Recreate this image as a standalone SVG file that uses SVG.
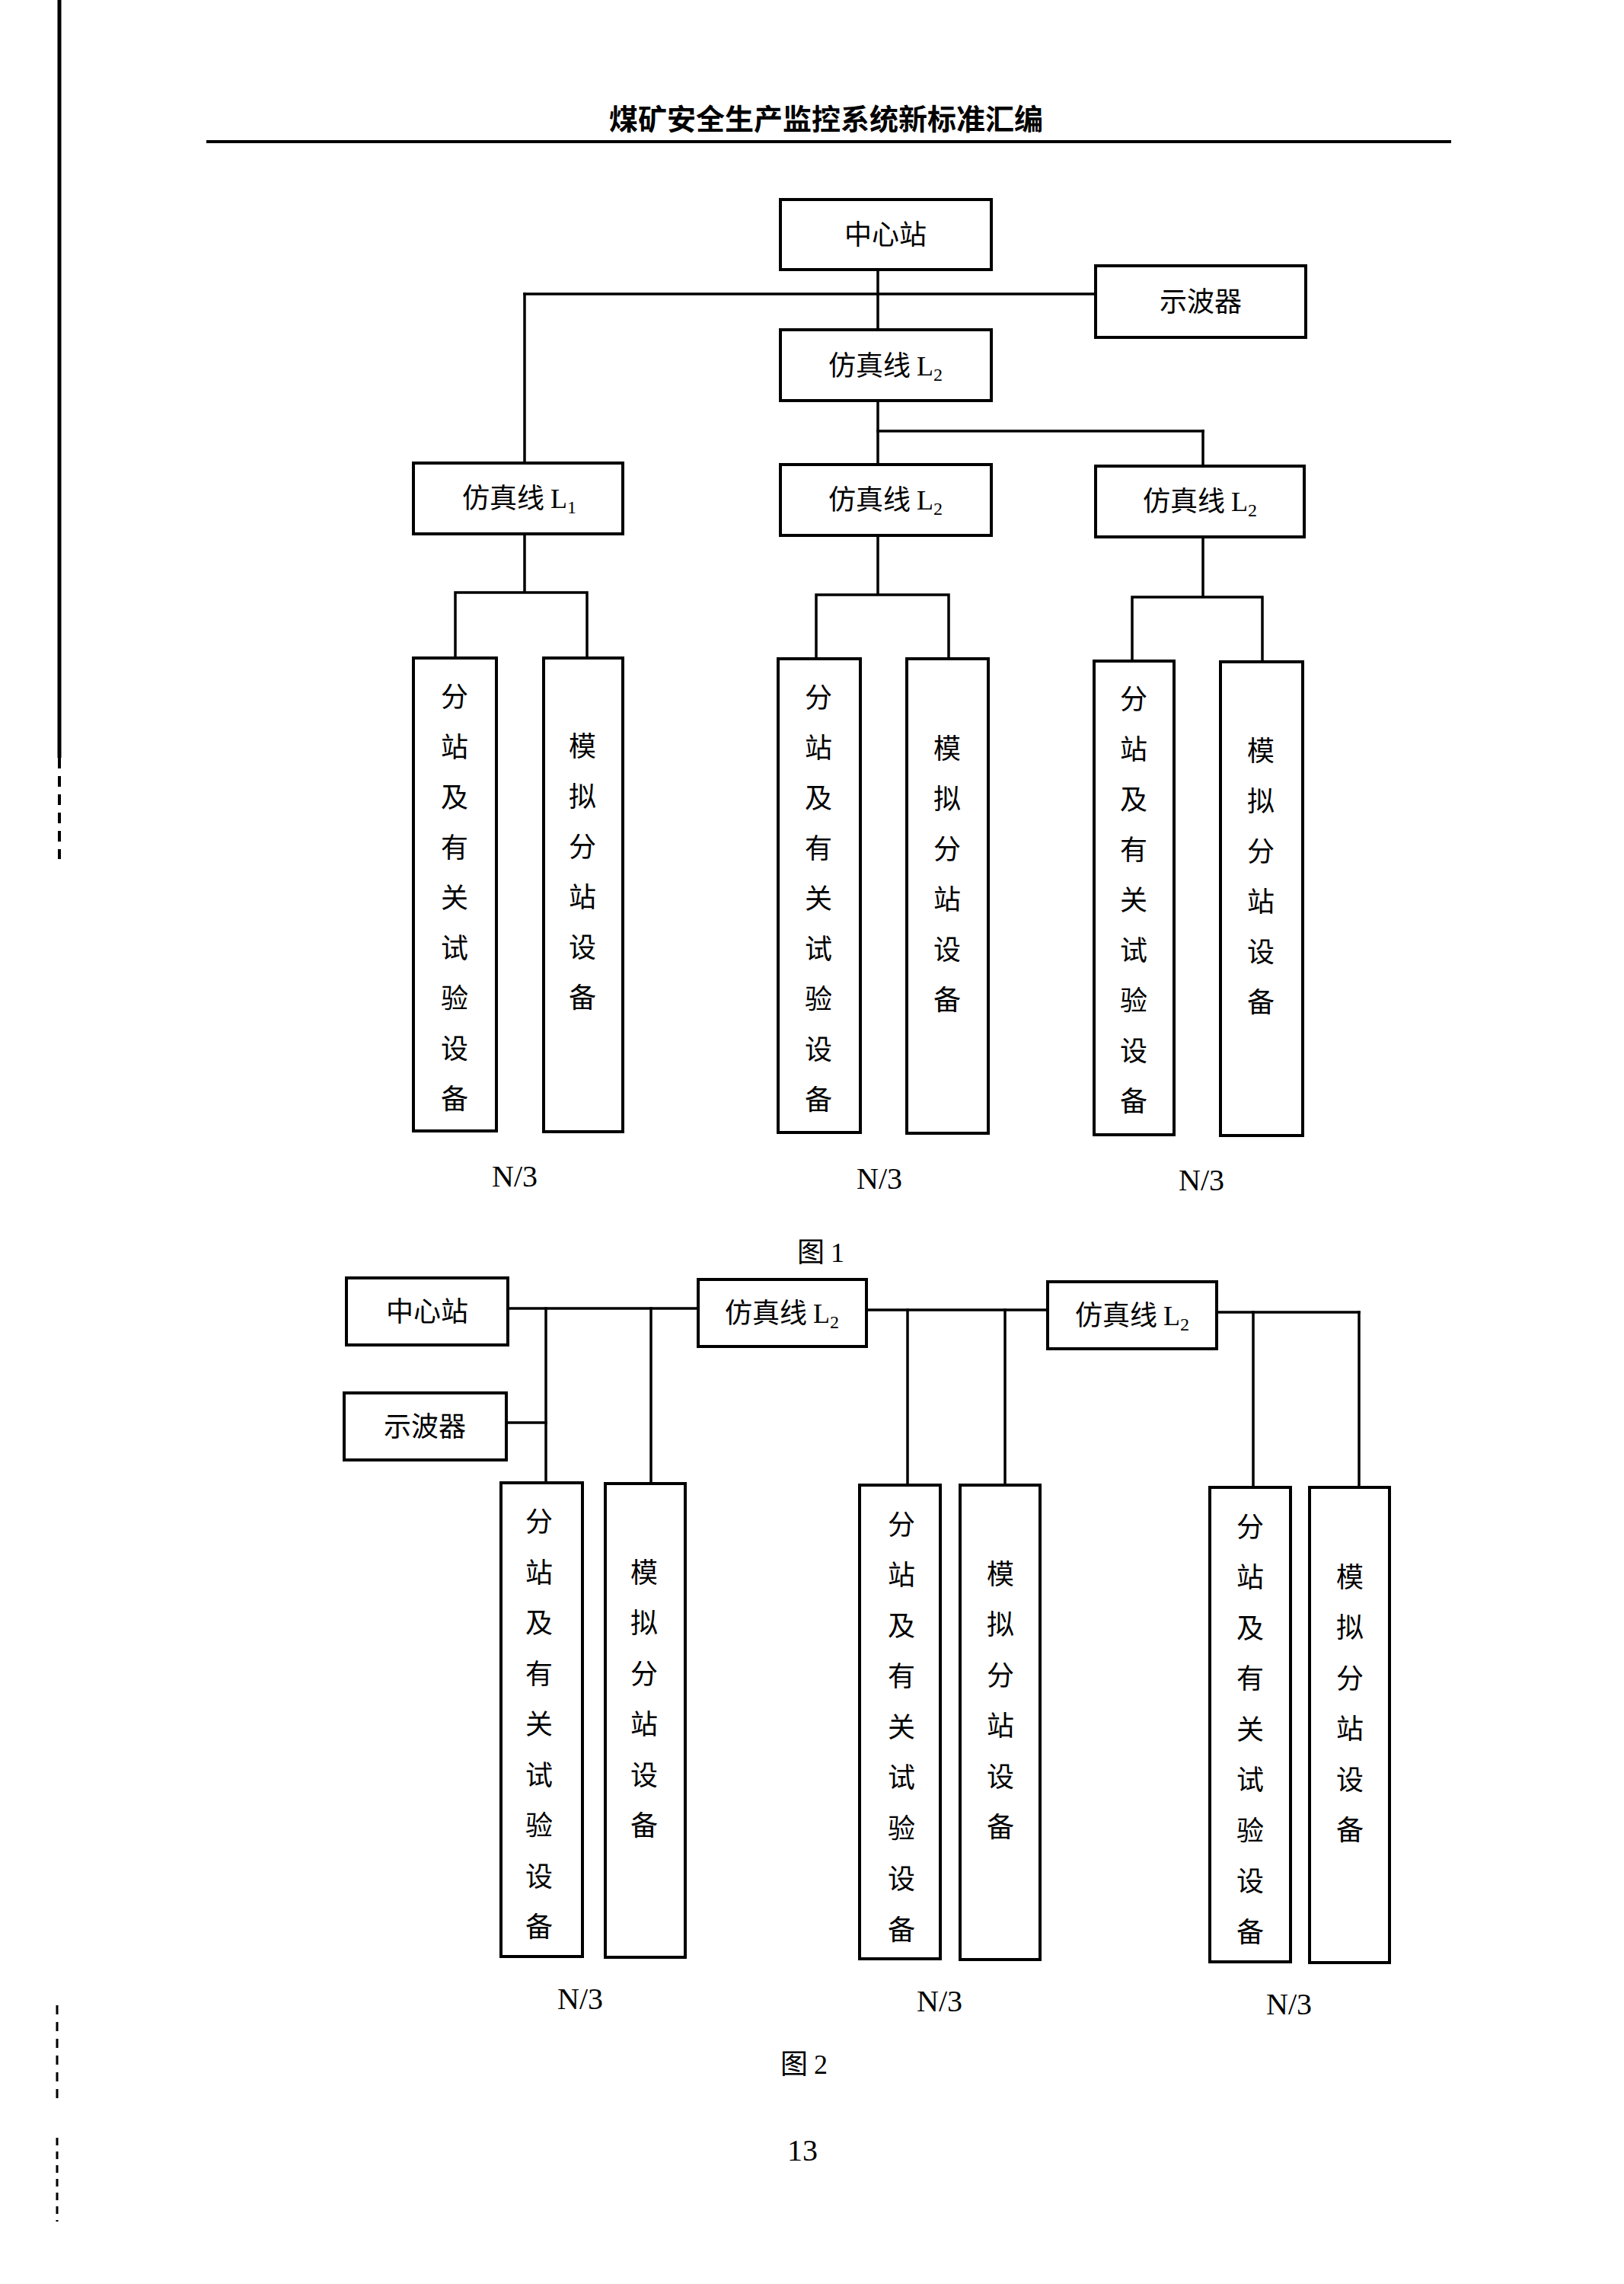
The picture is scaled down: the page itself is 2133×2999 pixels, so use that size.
<svg xmlns="http://www.w3.org/2000/svg" width="2133" height="2999" viewBox="0 0 2133 2999">
<style>
.bg{fill:#fff}
.box{fill:#fff;stroke:#000;stroke-width:4}
.ln{fill:none;stroke:#000;stroke-width:3.5;stroke-linecap:square}
.cjk{font-family:"Noto Sans CJK SC","Noto Sans",sans-serif;font-size:36px;fill:#000;text-anchor:middle}
.lat{font-family:"Liberation Serif",serif}
.sub{font-family:"Liberation Serif",serif;font-size:24px}
.num{font-family:"Liberation Serif",serif;font-size:40px;fill:#000;text-anchor:middle}
.hdr{font-family:"Noto Sans CJK SC",sans-serif;font-size:38px;font-weight:bold;fill:#000;text-anchor:middle}
</style>
<rect class="bg" x="0" y="0" width="2133" height="2999"/>

<g id="page">
<line x1="78" y1="0" x2="78" y2="995" stroke="#000" stroke-width="5"/>
<line x1="78" y1="995" x2="78" y2="1128" stroke="#000" stroke-width="4" stroke-dasharray="14 10"/>
<line x1="75" y1="2633" x2="75" y2="2763" stroke="#000" stroke-width="3" stroke-dasharray="12 10"/>
<line x1="75" y1="2807" x2="75" y2="2917" stroke="#000" stroke-width="3" stroke-dasharray="10 8"/>
<text class="hdr" x="1085" y="170">煤矿安全生产监控系统新标准汇编</text>
<line x1="271" y1="186" x2="1906" y2="186" stroke="#000" stroke-width="4"/>
<text class="cjk" x="1078" y="1657">图 <tspan class="lat">1</tspan></text>
<text class="cjk" x="1056" y="2723">图 <tspan class="lat">2</tspan></text>
<text class="num" x="1054" y="2837">13</text>
</g>

<!-- Figure 1 connectors -->
<g id="connectors-fig1">
<line class="ln" x1="1153" y1="354" x2="1153" y2="433"/>
<line class="ln" x1="689" y1="386" x2="1439" y2="386"/>
<line class="ln" x1="689" y1="386" x2="689" y2="608"/>
<line class="ln" x1="1153" y1="526" x2="1153" y2="610"/>
<line class="ln" x1="1153" y1="566" x2="1580" y2="566"/>
<line class="ln" x1="1580" y1="566" x2="1580" y2="612"/>
<path class="ln" d="M689 701 V778 M598 864 V778 H771 V864"/>
<path class="ln" d="M1153 703 V781 M1072 865 V781 H1246 V865"/>
<path class="ln" d="M1580 705 V784 M1487 868 V784 H1658 V869"/>
</g>

<!-- Figure 1 nodes -->
<g id="f1-center"><rect class="box" x="1025" y="262" width="277" height="92"/><text class="cjk" x="1163" y="321">中心站</text></g>
<g id="f1-scope"><rect class="box" x="1439" y="349" width="276" height="94"/><text class="cjk" x="1577" y="409">示波器</text></g>
<g id="f1-l2-top"><rect class="box" x="1025" y="433" width="277" height="93"/><text class="cjk" x="1163" y="493">仿真线 <tspan class="lat">L</tspan><tspan class="sub" dy="7">2</tspan></text></g>
<g id="f1-l1"><rect class="box" x="543" y="608" width="275" height="93"/><text class="cjk" x="682" y="667">仿真线 <tspan class="lat">L</tspan><tspan class="sub" dy="7">1</tspan></text></g>
<g id="f1-l2-mid"><rect class="box" x="1025" y="610" width="277" height="93"/><text class="cjk" x="1163" y="669">仿真线 <tspan class="lat">L</tspan><tspan class="sub" dy="7">2</tspan></text></g>
<g id="f1-l2-right"><rect class="box" x="1439" y="612" width="274" height="93"/><text class="cjk" x="1576" y="671">仿真线 <tspan class="lat">L</tspan><tspan class="sub" dy="7">2</tspan></text></g>

<g id="f1-sub-a"><rect class="box" x="543" y="864" width="109" height="621"/>
<text class="cjk"><tspan x="597" y="928">分</tspan><tspan x="597" y="994">站</tspan><tspan x="597" y="1060">及</tspan><tspan x="597" y="1126">有</tspan><tspan x="597" y="1192">关</tspan><tspan x="597" y="1258">试</tspan><tspan x="597" y="1324">验</tspan><tspan x="597" y="1390">设</tspan><tspan x="597" y="1456">备</tspan></text></g>
<g id="f1-sim-a"><rect class="box" x="714" y="864" width="104" height="622"/>
<text class="cjk"><tspan x="765" y="993">模</tspan><tspan x="765" y="1059">拟</tspan><tspan x="765" y="1125">分</tspan><tspan x="765" y="1191">站</tspan><tspan x="765" y="1257">设</tspan><tspan x="765" y="1323">备</tspan></text></g>
<g id="f1-sub-b"><rect class="box" x="1022" y="865" width="108" height="622"/>
<text class="cjk"><tspan x="1075" y="929">分</tspan><tspan x="1075" y="995">站</tspan><tspan x="1075" y="1061">及</tspan><tspan x="1075" y="1127">有</tspan><tspan x="1075" y="1193">关</tspan><tspan x="1075" y="1259">试</tspan><tspan x="1075" y="1325">验</tspan><tspan x="1075" y="1391">设</tspan><tspan x="1075" y="1457">备</tspan></text></g>
<g id="f1-sim-b"><rect class="box" x="1191" y="865" width="107" height="623"/>
<text class="cjk"><tspan x="1244" y="996">模</tspan><tspan x="1244" y="1062">拟</tspan><tspan x="1244" y="1128">分</tspan><tspan x="1244" y="1194">站</tspan><tspan x="1244" y="1260">设</tspan><tspan x="1244" y="1326">备</tspan></text></g>
<g id="f1-sub-c"><rect class="box" x="1437" y="868" width="105" height="622"/>
<text class="cjk"><tspan x="1489" y="931">分</tspan><tspan x="1489" y="997">站</tspan><tspan x="1489" y="1063">及</tspan><tspan x="1489" y="1129">有</tspan><tspan x="1489" y="1195">关</tspan><tspan x="1489" y="1261">试</tspan><tspan x="1489" y="1327">验</tspan><tspan x="1489" y="1393">设</tspan><tspan x="1489" y="1459">备</tspan></text></g>
<g id="f1-sim-c"><rect class="box" x="1603" y="869" width="108" height="622"/>
<text class="cjk"><tspan x="1656" y="999">模</tspan><tspan x="1656" y="1065">拟</tspan><tspan x="1656" y="1131">分</tspan><tspan x="1656" y="1197">站</tspan><tspan x="1656" y="1263">设</tspan><tspan x="1656" y="1329">备</tspan></text></g>

<g id="f1-labels">
<text class="num" x="676" y="1558">N/3</text>
<text class="num" x="1155" y="1561">N/3</text>
<text class="num" x="1578" y="1563">N/3</text>
</g>

<!-- Figure 2 connectors -->
<g id="connectors-fig2">
<line class="ln" x1="667" y1="1718" x2="917" y2="1718"/>
<line class="ln" x1="717" y1="1718" x2="717" y2="1947"/>
<line class="ln" x1="665" y1="1868" x2="717" y2="1868"/>
<line class="ln" x1="855" y1="1718" x2="855" y2="1948"/>
<line class="ln" x1="1138" y1="1720" x2="1376" y2="1720"/>
<line class="ln" x1="1192" y1="1720" x2="1192" y2="1950"/>
<line class="ln" x1="1320" y1="1720" x2="1320" y2="1950"/>
<line class="ln" x1="1598" y1="1723" x2="1785" y2="1723"/>
<line class="ln" x1="1646" y1="1723" x2="1646" y2="1953"/>
<line class="ln" x1="1785" y1="1723" x2="1785" y2="1953"/>
</g>

<!-- Figure 2 nodes -->
<g id="f2-center"><rect class="box" x="455" y="1678" width="212" height="88"/><text class="cjk" x="561" y="1735">中心站</text></g>
<g id="f2-scope"><rect class="box" x="452" y="1829" width="213" height="88"/><text class="cjk" x="558" y="1886">示波器</text></g>
<g id="f2-l2-a"><rect class="box" x="917" y="1680" width="221" height="88"/><text class="cjk" x="1027" y="1737">仿真线 <tspan class="lat">L</tspan><tspan class="sub" dy="7">2</tspan></text></g>
<g id="f2-l2-b"><rect class="box" x="1376" y="1683" width="222" height="88"/><text class="cjk" x="1487" y="1740">仿真线 <tspan class="lat">L</tspan><tspan class="sub" dy="7">2</tspan></text></g>

<g id="f2-sub-a"><rect class="box" x="658" y="1947" width="107" height="622"/>
<text class="cjk"><tspan x="708" y="2011">分</tspan><tspan x="708" y="2078">站</tspan><tspan x="708" y="2144">及</tspan><tspan x="708" y="2211">有</tspan><tspan x="708" y="2277">关</tspan><tspan x="708" y="2344">试</tspan><tspan x="708" y="2410">验</tspan><tspan x="708" y="2477">设</tspan><tspan x="708" y="2543">备</tspan></text></g>
<g id="f2-sim-a"><rect class="box" x="795" y="1948" width="105" height="622"/>
<text class="cjk"><tspan x="846" y="2078">模</tspan><tspan x="846" y="2144">拟</tspan><tspan x="846" y="2211">分</tspan><tspan x="846" y="2277">站</tspan><tspan x="846" y="2344">设</tspan><tspan x="846" y="2410">备</tspan></text></g>
<g id="f2-sub-b"><rect class="box" x="1129" y="1950" width="106" height="622"/>
<text class="cjk"><tspan x="1184" y="2015">分</tspan><tspan x="1184" y="2081">站</tspan><tspan x="1184" y="2148">及</tspan><tspan x="1184" y="2214">有</tspan><tspan x="1184" y="2281">关</tspan><tspan x="1184" y="2347">试</tspan><tspan x="1184" y="2414">验</tspan><tspan x="1184" y="2480">设</tspan><tspan x="1184" y="2547">备</tspan></text></g>
<g id="f2-sim-b"><rect class="box" x="1261" y="1950" width="105" height="623"/>
<text class="cjk"><tspan x="1314" y="2080">模</tspan><tspan x="1314" y="2146">拟</tspan><tspan x="1314" y="2213">分</tspan><tspan x="1314" y="2279">站</tspan><tspan x="1314" y="2346">设</tspan><tspan x="1314" y="2412">备</tspan></text></g>
<g id="f2-sub-c"><rect class="box" x="1589" y="1953" width="106" height="623"/>
<text class="cjk"><tspan x="1642" y="2018">分</tspan><tspan x="1642" y="2084">站</tspan><tspan x="1642" y="2151">及</tspan><tspan x="1642" y="2217">有</tspan><tspan x="1642" y="2284">关</tspan><tspan x="1642" y="2350">试</tspan><tspan x="1642" y="2417">验</tspan><tspan x="1642" y="2483">设</tspan><tspan x="1642" y="2550">备</tspan></text></g>
<g id="f2-sim-c"><rect class="box" x="1720" y="1953" width="105" height="624"/>
<text class="cjk"><tspan x="1773" y="2084">模</tspan><tspan x="1773" y="2150">拟</tspan><tspan x="1773" y="2217">分</tspan><tspan x="1773" y="2283">站</tspan><tspan x="1773" y="2350">设</tspan><tspan x="1773" y="2416">备</tspan></text></g>

<g id="f2-labels">
<text class="num" x="762" y="2638">N/3</text>
<text class="num" x="1234" y="2641">N/3</text>
<text class="num" x="1693" y="2645">N/3</text>
</g>
</svg>
